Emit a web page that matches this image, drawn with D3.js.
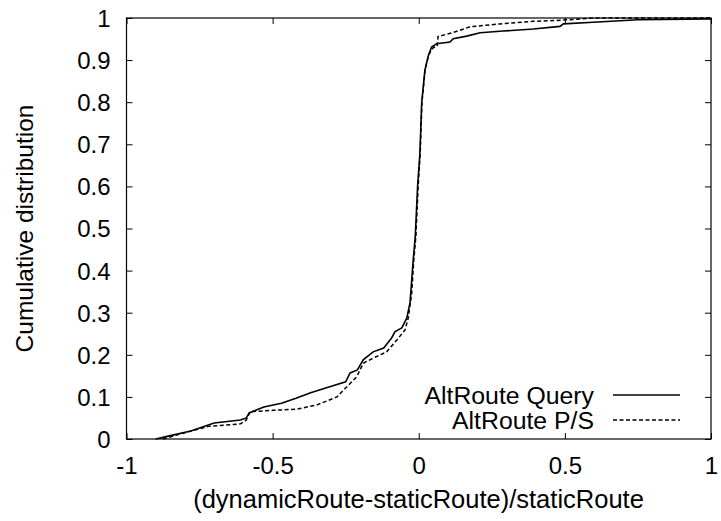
<!DOCTYPE html>
<html>
<head>
<meta charset="utf-8">
<script src="https://cdn.jsdelivr.net/npm/d3@7"></script>
<style>
html,body{margin:0;padding:0;background:#fff;}
svg{display:block;}
text{font-family:"Liberation Sans",Arial,Helvetica,sans-serif;fill:#000;}
</style>
</head>
<body>
<svg id="chart" width="721" height="521"></svg>
<script>
const xTicks = [-1, -0.5, 0, 0.5, 1];
const xTickLabels = ["-1", "-0.5", "0", "0.5", "1"];
const yTicks = [0, 0.1, 0.2, 0.3, 0.4, 0.5, 0.6, 0.7, 0.8, 0.9, 1];
const yTickLabels = ["0", "0.1", "0.2", "0.3", "0.4", "0.5", "0.6", "0.7", "0.8", "0.9", "1"];
const seriesNames = ["AltRoute Query", "AltRoute P/S"];
const xLabel = "(dynamicRoute-staticRoute)/staticRoute";
const yLabel = "Cumulative distribution";

const queryX = [-0.90,-0.85,-0.78,-0.72,-0.70,-0.61,-0.59,-0.58,-0.53,-0.47,-0.42,-0.37,-0.31,-0.25,-0.235,-0.21,-0.19,-0.156,-0.12,-0.093,-0.081,-0.058,-0.041,-0.030,-0.024,-0.019,-0.012,-0.004,0.004,0.010,0.021,0.033,0.044,0.061,0.107,0.118,0.164,0.21,0.289,0.392,0.483,0.495,0.597,0.75,1.0];
const queryY = [0.000,0.008,0.019,0.033,0.038,0.045,0.050,0.062,0.076,0.085,0.097,0.110,0.123,0.136,0.157,0.164,0.188,0.207,0.216,0.240,0.255,0.264,0.287,0.323,0.378,0.425,0.480,0.600,0.679,0.798,0.876,0.911,0.931,0.939,0.943,0.951,0.957,0.965,0.969,0.974,0.980,0.986,0.990,0.996,0.998];

const psX = [-0.875,-0.80,-0.72,-0.61,-0.59,-0.577,-0.50,-0.416,-0.348,-0.28,-0.246,-0.212,-0.19,-0.156,-0.11,-0.075,-0.047,-0.036,-0.024,-0.017,-0.010,-0.002,0.005,0.011,0.022,0.034,0.05,0.063,0.066,0.12,0.175,0.278,0.392,0.495,0.597,1.0];
const psY = [0.000,0.015,0.030,0.036,0.045,0.065,0.068,0.071,0.081,0.100,0.124,0.148,0.180,0.192,0.207,0.235,0.259,0.287,0.347,0.425,0.480,0.600,0.680,0.800,0.878,0.913,0.930,0.932,0.956,0.966,0.979,0.986,0.992,0.995,1.000,1.000];

const svg = d3.select("#chart");
const pLeft = 126.5, pRight = 711, pTop = 18, pBottom = 439;
const x = d3.scaleLinear().domain([-1, 1]).range([pLeft, pRight]);
const y = d3.scaleLinear().domain([0, 1]).range([pBottom, pTop]);
const fs = 24;

// ticks (inward, mirrored)
const tickLen = 6;
const gx = svg.append("g").attr("transform", `translate(0,${pBottom})`)
  .call(d3.axisBottom(x).tickValues(xTicks).tickSize(-tickLen).tickFormat((d,i)=>xTickLabels[i]));
const gxTop = svg.append("g").attr("transform", `translate(0,${pTop})`)
  .call(d3.axisTop(x).tickValues(xTicks).tickSize(-tickLen).tickFormat(""));
const gy = svg.append("g").attr("transform", `translate(${pLeft},0)`)
  .call(d3.axisLeft(y).tickValues(yTicks).tickSize(-tickLen).tickFormat((d,i)=>yTickLabels[i]));
const gyR = svg.append("g").attr("transform", `translate(${pRight},0)`)
  .call(d3.axisRight(y).tickValues(yTicks).tickSize(-tickLen).tickFormat(""));
[gx, gxTop, gy, gyR].forEach(g => {
  g.select(".domain").remove();
  g.selectAll(".tick line").attr("stroke", "#000").attr("stroke-width", 1);
  g.selectAll("text").attr("font-size", fs).attr("font-family", '"Liberation Sans",Arial,sans-serif').attr("fill", "#000");
});
gy.selectAll(".tick text").attr("x", -16).attr("dy", "0.35em");
gx.selectAll(".tick text").attr("y", 474 - pBottom).attr("dy", 0);

// frame
svg.append("rect").attr("x", pLeft).attr("y", pTop).attr("width", pRight - pLeft).attr("height", pBottom - pTop)
  .attr("fill", "none").attr("stroke", "#000").attr("stroke-width", 1.2);

// lines
const line = d3.line().x(d => x(d[0])).y(d => y(d[1]));
const query = queryX.map((v, i) => [v, queryY[i]]);
const ps = psX.map((v, i) => [v, psY[i]]);
svg.append("path").datum(ps).attr("d", line).attr("fill", "none").attr("stroke", "#000")
  .attr("stroke-width", 1.5).attr("stroke-dasharray", "4,2.5");
svg.append("path").datum(query).attr("d", line).attr("fill", "none").attr("stroke", "#000")
  .attr("stroke-width", 1.6);

// legend
const legY = [395, 420];
const dashes = [null, "4,2.5"];
seriesNames.forEach((name, i) => {
  svg.append("text").attr("x", 594).attr("y", legY[i]).attr("dy", "0.35em")
    .attr("text-anchor", "end").attr("font-size", 24.8).text(name);
  svg.append("line").attr("x1", 613).attr("x2", 680).attr("y1", legY[i]).attr("y2", legY[i])
    .attr("stroke", "#000").attr("stroke-width", 1.5)
    .attr("stroke-dasharray", dashes[i]);
});

// axis titles
svg.append("text").attr("x", 418.5).attr("y", 508).attr("text-anchor", "middle")
  .attr("font-size", 25.5).text(xLabel);
svg.append("text").attr("transform", `translate(33,${(pTop + pBottom) / 2}) rotate(-90)`)
  .attr("text-anchor", "middle").attr("font-size", 24.5).text(yLabel);
</script>
</body>
</html>
